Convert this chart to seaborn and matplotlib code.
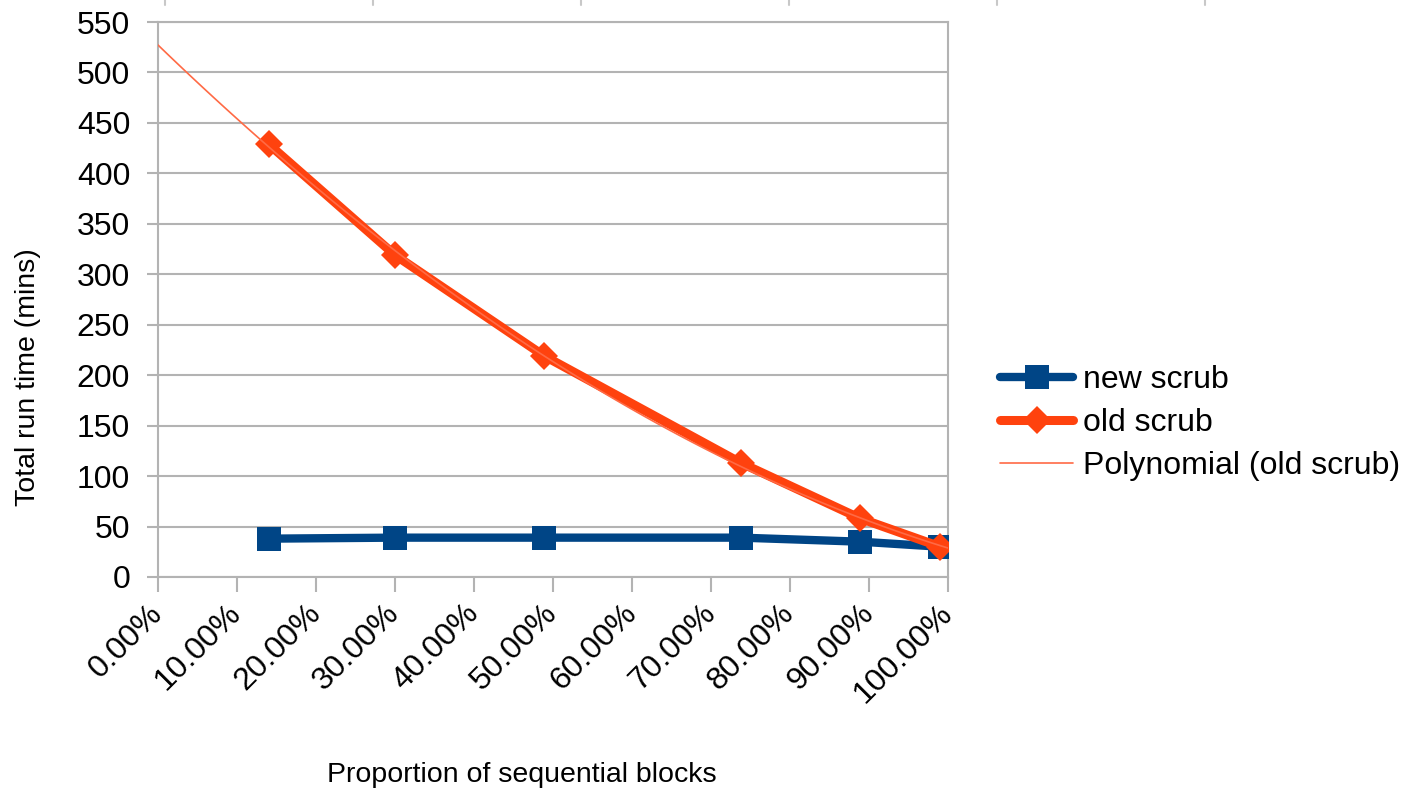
import numpy as np
import pandas as pd
import seaborn as sns
import matplotlib.pyplot as plt
from matplotlib.lines import Line2D
from matplotlib.ticker import FuncFormatter

# proportion of sequential blocks (as fraction) and total run time in minutes
seq_prop = [0.140, 0.300, 0.489, 0.738, 0.889, 0.990]
new_scrub = [38, 39, 39, 39, 35, 30]
old_scrub = [429, 319, 219, 113, 58, 30]

x_ticks = np.arange(0, 1.001, 0.1)
y_ticks = np.arange(0, 551, 50)

df = pd.DataFrame({'prop': seq_prop, 'new scrub': new_scrub, 'old scrub': old_scrub})

# layout in pixels of the 1410x791 picture
W, H = 1410, 791
top_marks = [165, 373, 581, 789, 997, 1205]

sns.set_style('white')
plt.rcParams['font.family'] = ['Liberation Sans', 'DejaVu Sans']
plt.rcParams['text.color'] = 'black'
plt.rcParams['xtick.labelcolor'] = 'black'
plt.rcParams['ytick.labelcolor'] = 'black'

fig = plt.figure(figsize=(W / 100, H / 100), dpi=100)
ax = fig.add_axes([158 / W, 1 - 577 / H, 790 / W, 555 / H])
ax.set_xlim(0, 1)
ax.set_ylim(0, 550)

sns.lineplot(data=df, x='prop', y='new scrub', ax=ax, color='#004586', linewidth=6,
             marker='s', markersize=17, markeredgewidth=0, label='new scrub', zorder=3)
sns.lineplot(data=df, x='prop', y='old scrub', ax=ax, color='#ff420e', linewidth=6.5,
             marker='D', markersize=14.5, markeredgewidth=0, label='old scrub', zorder=4)
# polynomial trend line of old scrub, drawn over the full x range
sns.regplot(data=df, x='prop', y='old scrub', ax=ax, order=2, ci=None, scatter=False,
            truncate=False, color='#ff6a45', label='Polynomial (old scrub)',
            line_kws={'linewidth': 1.2, 'zorder': 5})

ax.set_xlim(0, 1)
ax.set_ylim(0, 550)
ax.set_xticks(x_ticks)
ax.set_yticks(y_ticks)
ax.xaxis.set_major_formatter(FuncFormatter(lambda v, p: f'{v * 100:.2f}%'))
ax.set_xlabel('')
ax.set_ylabel('')

grey = '#b3b3b3'
ax.yaxis.grid(True, color=grey, linewidth=1.5)
ax.xaxis.grid(False)
ax.set_axisbelow(True)
for s in ax.spines.values():
    s.set_color(grey)
    s.set_linewidth(1.5)

ax.tick_params(axis='y', length=8, width=1.5, color=grey, pad=12, labelsize=23, left=True,
               labelcolor='black')
ax.tick_params(axis='x', length=11, width=1.5, color=grey, pad=12, labelsize=23, bottom=True,
               labelcolor='black')
for lab in ax.get_xticklabels():
    lab.set_rotation(45)
    lab.set_ha('right')
    lab.set_va('center')
    lab.set_rotation_mode('anchor')

fig.text(522 / W, 1 - 775 / H, 'Proportion of sequential blocks', fontsize=20.5,
         ha='center', va='center', color='black')
fig.text(28 / W, 1 - 377 / H, 'Total run time (mins)', fontsize=20.5, rotation=90,
         ha='center', va='center', color='black')

ax.legend(loc='center left', bbox_to_anchor=(1000 / W, 1 - 423 / H), bbox_transform=fig.transFigure,
          frameon=False, fontsize=23, handlelength=2.3, handletextpad=0.3, labelspacing=0.4,
          borderpad=0, borderaxespad=0, labelcolor='black')

# small cut-off marks along the top edge of the screenshot
for mx in top_marks:
    fig.add_artist(Line2D([mx / W, mx / W], [1, 1 - 5 / H], transform=fig.transFigure,
                          color='#c8c8c8', linewidth=1.5))

fig.savefig('out.png', dpi=100)
